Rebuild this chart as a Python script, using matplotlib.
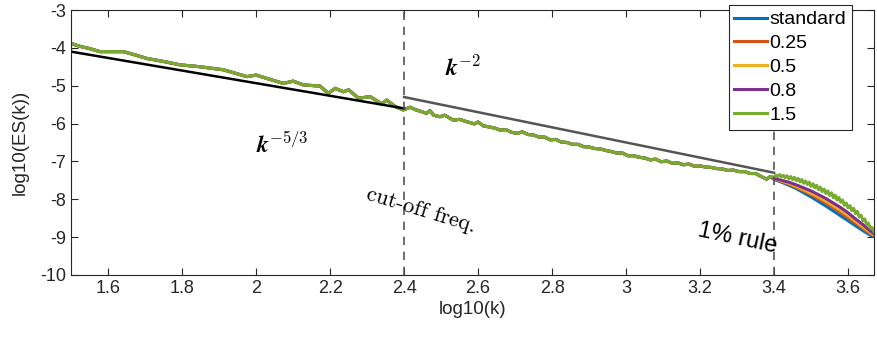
import matplotlib
matplotlib.use('Agg')
import matplotlib.pyplot as plt

plt.rcParams['font.family'] = ['Liberation Sans', 'DejaVu Sans']
plt.rcParams['mathtext.fontset'] = 'cm'
plt.rcParams['axes.unicode_minus'] = False

# shared part of the spectra (all cases lie on top of each other up to k ~ 10^3.4)
logk_base = [1.50, 1.52, 1.55, 1.578, 1.60, 1.641, 1.66, 1.705, 1.75, 1.795,
             1.849, 1.88, 1.912, 1.94, 1.975, 2.00, 2.04, 2.074, 2.10, 2.128,
             2.173, 2.195, 2.214, 2.236, 2.25, 2.277, 2.308, 2.34, 2.353, 2.376,
             2.398, 2.416, 2.43, 2.445, 2.461, 2.47, 2.48, 2.497, 2.51, 2.533,
             2.55, 2.569, 2.59, 2.60, 2.614, 2.63, 2.645, 2.659, 2.675, 2.69,
             2.705, 2.72, 2.735, 2.749, 2.765, 2.78, 2.795, 2.81, 2.825, 2.84,
             2.855, 2.87, 2.885, 2.90, 2.915, 2.93, 2.945, 2.96, 2.975, 2.99,
             3.005, 3.02, 3.035, 3.05, 3.065, 3.08, 3.095, 3.11, 3.125, 3.14,
             3.155, 3.17, 3.185, 3.20, 3.215, 3.23, 3.245, 3.26, 3.275, 3.29,
             3.305, 3.32, 3.335, 3.35, 3.365, 3.38, 3.39]
logE_base = [-3.88, -3.95, -4.02, -4.10, -4.10, -4.10, -4.15, -4.28, -4.36, -4.45,
             -4.50, -4.54, -4.58, -4.66, -4.76, -4.72, -4.84, -4.94, -4.88, -4.98,
             -5.01, -5.20, -5.07, -5.16, -5.11, -5.33, -5.29, -5.48, -5.38, -5.55,
             -5.64, -5.57, -5.63, -5.68, -5.73, -5.66, -5.78, -5.82, -5.78, -5.91,
             -5.89, -5.95, -6.01, -5.96, -6.06, -6.09, -6.12, -6.17, -6.16, -6.23,
             -6.26, -6.22, -6.29, -6.30, -6.36, -6.36, -6.43, -6.42, -6.49, -6.50,
             -6.55, -6.55, -6.61, -6.62, -6.66, -6.67, -6.71, -6.74, -6.78, -6.78,
             -6.85, -6.85, -6.89, -6.91, -6.96, -6.94, -7.01, -6.99, -7.05, -7.04,
             -7.09, -7.07, -7.13, -7.12, -7.15, -7.16, -7.19, -7.20, -7.24, -7.23,
             -7.27, -7.27, -7.32, -7.32, -7.40, -7.47, -7.40]

# tails beyond 10^3.4 where the cases separate
logk_tail = [3.40, 3.42, 3.44, 3.46, 3.48, 3.50, 3.52, 3.54, 3.56, 3.58,
             3.60, 3.62, 3.64, 3.66, 3.67]
tail_standard = [-7.48, -7.55, -7.63, -7.72, -7.83, -7.94, -8.06, -8.18, -8.31, -8.44,
                 -8.57, -8.70, -8.83, -8.95, -8.99]
tail_025 = [-7.47, -7.53, -7.60, -7.69, -7.78, -7.88, -7.99, -8.10, -8.22, -8.35,
            -8.49, -8.63, -8.77, -8.91, -8.96]
tail_05 = [-7.46, -7.52, -7.58, -7.66, -7.75, -7.84, -7.94, -8.05, -8.17, -8.29,
           -8.43, -8.58, -8.73, -8.88, -8.94]
tail_08 = [-7.45, -7.50, -7.55, -7.62, -7.70, -7.78, -7.88, -7.98, -8.10, -8.22,
           -8.36, -8.52, -8.67, -8.84, -8.91]
logk_tail15 = [3.400, 3.405, 3.410, 3.415, 3.420, 3.425, 3.430, 3.435, 3.440, 3.445,
               3.450, 3.455, 3.460, 3.465, 3.470, 3.475, 3.480, 3.485, 3.490, 3.495,
               3.500, 3.505, 3.510, 3.515, 3.520, 3.525, 3.530, 3.535, 3.540, 3.545,
               3.550, 3.555, 3.560, 3.565, 3.570, 3.575, 3.580, 3.585, 3.590, 3.595,
               3.600, 3.605, 3.610, 3.615, 3.620, 3.625, 3.630, 3.635, 3.640, 3.645,
               3.650, 3.655, 3.660, 3.665, 3.670]
tail_15 = [-7.42, -7.36, -7.40, -7.35, -7.41, -7.37, -7.43, -7.38, -7.46, -7.40,
           -7.48, -7.42, -7.51, -7.45, -7.54, -7.48, -7.58, -7.52, -7.61, -7.55,
           -7.66, -7.59, -7.70, -7.63, -7.75, -7.68, -7.80, -7.73, -7.85, -7.78,
           -7.90, -7.83, -7.96, -7.89, -8.02, -7.95, -8.08, -8.02, -8.16, -8.10,
           -8.23, -8.17, -8.30, -8.24, -8.38, -8.32, -8.47, -8.42, -8.57, -8.52,
           -8.67, -8.63, -8.77, -8.75, -8.86]

labels = ['standard', '0.25', '0.5', '0.8', '1.5']
colors = ['#0072BD', '#D95319', '#EDB120', '#7E2F8E', '#77AC30']

# reference slopes
slope53_x = [1.5, 2.4]
slope53_y = [-4.1, -5.6]
slope2_x = [2.4, 3.4]
slope2_y = [-5.3, -7.3]
cutoffs = [2.4, 3.4]

fig = plt.figure(figsize=(8.77, 3.39), dpi=100)
ax = fig.add_axes([0.081, 0.189, 0.9156, 0.7815])

tails = [(logk_tail, tail_standard), (logk_tail, tail_025), (logk_tail, tail_05),
         (logk_tail, tail_08), (logk_tail15, tail_15)]
for (kt, et), lab, c in zip(tails, labels, colors):
    ax.plot(logk_base + kt, logE_base + et, color=c, lw=2.2, label=lab)

ax.plot(slope53_x, slope53_y, color='black', lw=1.8)
ax.plot(slope2_x, slope2_y, color='#555555', lw=1.8)
for xc in cutoffs:
    ax.axvline(xc, color='#555555', lw=1.2, ls=(0, (5, 4)))

ax.text(2.56, -4.55, r'$\mathbfit{k}^{\mathbf{-2}}$', fontsize=17, ha='center', va='center')
ax.text(2.07, -6.55, r'$\mathbfit{k}^{\mathbf{-5/3}}$', fontsize=17, ha='center', va='center')
ax.text(2.445, -8.3, 'cut-off freq.', family='cmr10', fontsize=16, rotation=-17,
        ha='center', va='center')
ax.text(3.30, -9.05, '1% rule', fontsize=17, rotation=-12, ha='center', va='center')

ax.set_xlim(1.5, 3.67)
ax.set_ylim(-10, -3)
ax.set_xticks([1.6, 1.8, 2.0, 2.2, 2.4, 2.6, 2.8, 3.0, 3.2, 3.4, 3.6])
ax.set_xticklabels(['1.6', '1.8', '2', '2.2', '2.4', '2.6', '2.8', '3', '3.2', '3.4', '3.6'])
ax.set_yticks(range(-10, -2))
ax.tick_params(direction='in', top=True, right=True, labelsize=13,
               colors='#262626', length=5, width=0.8)
for s in ax.spines.values():
    s.set_color('#262626')
    s.set_linewidth(0.8)
ax.set_xlabel('log10(k)', fontsize=13.5, color='#262626', labelpad=3)
ax.set_ylabel('log10(ES(k))', fontsize=13.5, color='#262626', labelpad=8)

leg = ax.legend(loc='upper right', bbox_to_anchor=(0.9726, 1.019), borderaxespad=0,
                fontsize=14, fancybox=False, framealpha=1, edgecolor='#262626',
                handlelength=1.7, handletextpad=0.1, labelspacing=0.32,
                borderpad=0.3)
leg.get_frame().set_linewidth(0.8)
leg.set_zorder(10)

fig.savefig('out.png', dpi=100)
